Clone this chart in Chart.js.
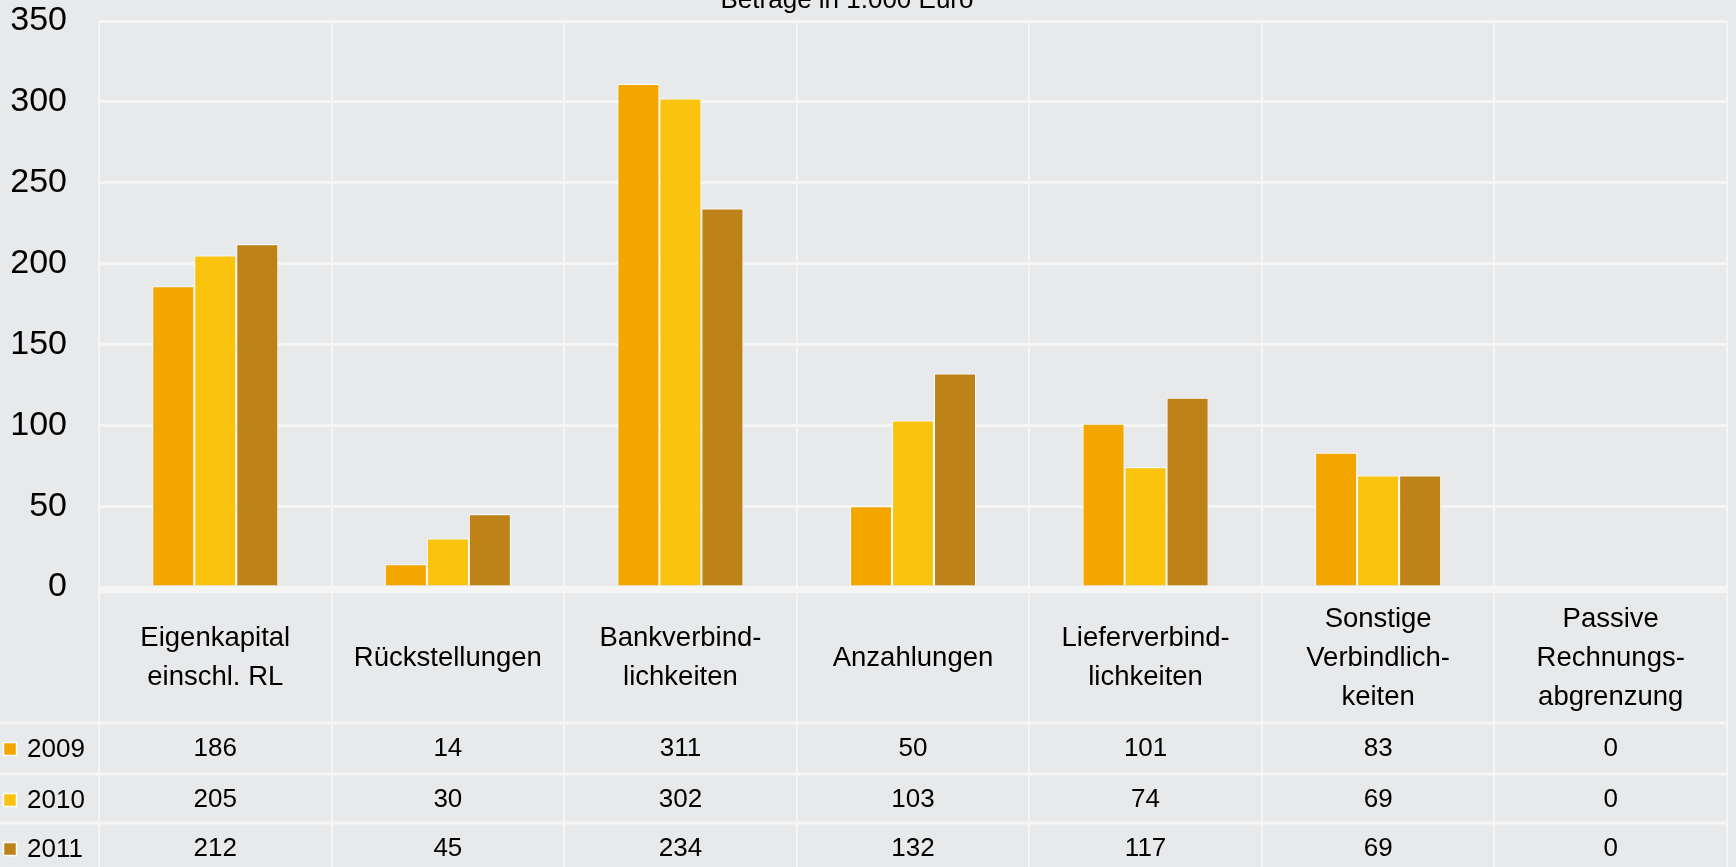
<!DOCTYPE html>
<html>
<head>
<meta charset="utf-8">
<script src="https://cdn.jsdelivr.net/npm/chart.js@4/dist/chart.umd.min.js"></script>
<style>
  html, body { margin: 0; padding: 0; background: #e8e9eb; }
  canvas { display: block; }
</style>
</head>
<body>
<canvas id="chart" width="1736" height="867"></canvas>
<script>
// === Data ===
const categories = [
  ['Eigenkapital', 'einschl. RL'],
  ['Rückstellungen'],
  ['Bankverbind-', 'lichkeiten'],
  ['Anzahlungen'],
  ['Lieferverbind-', 'lichkeiten'],
  ['Sonstige', 'Verbindlich-', 'keiten'],
  ['Passive', 'Rechnungs-', 'abgrenzung']
];
const years = ['2009', '2010', '2011'];
const values2009 = [186, 14, 311, 50, 101, 83, 0];
const values2010 = [205, 30, 302, 103, 74, 69, 0];
const values2011 = [212, 45, 234, 132, 117, 69, 0];
const yTicks = [0, 50, 100, 150, 200, 250, 300, 350];
const title = 'Beträge in 1.000 Euro';

const colors = ['#f3a600', '#fac30d', '#be8318'];
const gridColor = '#f5f5f5';
const fontFamily = "'Liberation Sans', Arial, sans-serif";
const seriesValues = [values2009, values2010, values2011];

// table below the plot: header cell + one row per year
const tableHeight = 280;
const rowTops = [723, 774, 823];
const rowHeight = 50;

const tablePlugin = {
  id: 'dataTable',
  afterDatasetsDraw(chart) {
    const { ctx, chartArea, scales } = chart;
    const y0 = scales.y.getPixelForValue(0);
    ctx.save();
    ctx.fillStyle = gridColor;
    ctx.fillRect(chartArea.left, y0, chartArea.right - chartArea.left, 6);
    ctx.restore();
  },
  afterDraw(chart) {
    const { ctx, chartArea, scales } = chart;
    const x = scales.x;
    ctx.save();

    // title, partly cut off at the top
    ctx.fillStyle = '#000';
    ctx.font = `26px ${fontFamily}`;
    ctx.textAlign = 'center';
    ctx.textBaseline = 'alphabetic';
    ctx.fillText(title, 847, 8);

    // row separators
    ctx.strokeStyle = gridColor;
    ctx.lineWidth = 3;
    rowTops.forEach(t => {
      ctx.beginPath();
      ctx.moveTo(0, t);
      ctx.lineTo(chartArea.right, t);
      ctx.stroke();
    });

    // category header
    ctx.fillStyle = '#000';
    ctx.font = `27.5px ${fontFamily}`;
    ctx.textBaseline = 'middle';
    const headerMid = 658;
    const lh = 39;
    categories.forEach((lines, i) => {
      const cx = x.getPixelForValue(i);
      const startY = headerMid - (lines.length - 1) * lh / 2;
      lines.forEach((l, j) => ctx.fillText(l, cx, startY + j * lh));
    });

    // value rows with legend keys
    ctx.font = `26px ${fontFamily}`;
    seriesValues.forEach((vals, r) => {
      const cy = rowTops[r] + rowHeight / 2 + 1;
      ctx.fillStyle = colors[r];
      ctx.fillRect(4, cy - 6, 12, 12);
      ctx.strokeStyle = '#ffffff';
      ctx.lineWidth = 1.5;
      ctx.strokeRect(3.5, cy - 6.5, 13, 13);
      ctx.fillStyle = '#000';
      ctx.textAlign = 'left';
      ctx.fillText(years[r], 27, cy + 1);
      ctx.textAlign = 'center';
      vals.forEach((v, i) => ctx.fillText(String(v), x.getPixelForValue(i), cy));
    });
    ctx.restore();
  }
};

new Chart(document.getElementById('chart').getContext('2d'), {
  type: 'bar',
  data: {
    labels: categories.map(c => c.join(' ')),
    datasets: years.map((yr, i) => ({
      label: yr,
      data: seriesValues[i],
      backgroundColor: colors[i],
      borderColor: '#ffffff',
      borderWidth: 1,
      categoryPercentage: 0.542,
      barPercentage: 1.0
    }))
  },
  options: {
    responsive: false,
    animation: false,
    layout: { padding: { top: 21, right: 9, left: 0, bottom: 0 } },
    plugins: {
      legend: { display: false },
      tooltip: { enabled: false }
    },
    scales: {
      x: {
        offset: true,
        ticks: { display: false },
        border: { display: false },
        grid: {
          offset: true,
          color: gridColor,
          lineWidth: 2,
          drawTicks: true,
          tickLength: tableHeight,
          tickColor: gridColor,
          tickWidth: 2
        },
        afterFit: s => { s.height = tableHeight; s.paddingLeft = 0; s.paddingRight = 0; }
      },
      y: {
        min: 0,
        max: 350,
        afterBuildTicks: s => { s.ticks = yTicks.map(v => ({ value: v })); },
        ticks: {
          padding: 32,
          color: '#000',
          font: { family: fontFamily, size: 34 }
        },
        border: { display: false },
        grid: { color: gridColor, lineWidth: 3, drawTicks: false },
        afterFit: s => { s.width = 99; s.paddingTop = 0; s.paddingBottom = 0; }
      }
    }
  },
  plugins: [tablePlugin]
});
</script>
</body>
</html>
